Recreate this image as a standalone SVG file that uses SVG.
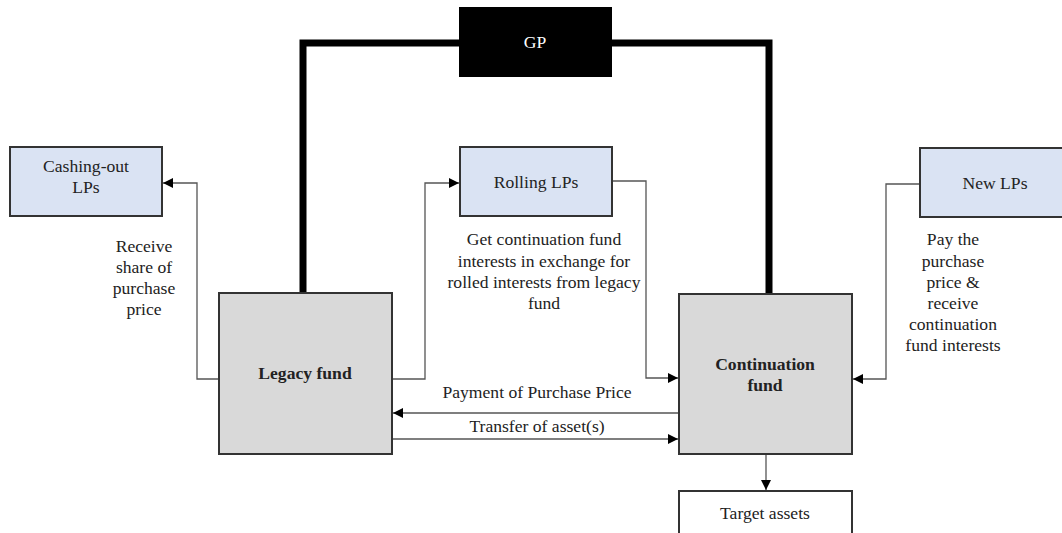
<svg xmlns="http://www.w3.org/2000/svg" width="1062" height="533" viewBox="0 0 1062 533">
<style>
text{font-family:"Liberation Serif","Times New Roman",serif;font-size:17.6px;fill:#222;text-anchor:middle}
.b{font-weight:bold}
.w{fill:#fff}
.lp{fill:#dae3f3;stroke:#333;stroke-width:2}
.fund{fill:#d9d9d9;stroke:#333;stroke-width:2}
.tgt{fill:#fff;stroke:#333;stroke-width:2}
.c{fill:none;stroke:#555;stroke-width:1.3}
.gp{fill:none;stroke:#000;stroke-width:7}
</style>
<defs>
<marker id="ah" viewBox="0 0 10 10" refX="10" refY="5" markerWidth="10" markerHeight="10" markerUnits="userSpaceOnUse" orient="auto">
<path d="M0,0 L10,5 L0,10 Z" fill="#000"/>
</marker>
</defs>
<rect width="1062" height="533" fill="#fff"/>
<g id="connectors">
<path class="gp" d="M303,294 V43 H460"/>
<path class="gp" d="M611,43 H769 V294"/>
<path class="c" d="M219,379 H197 V183 H163" marker-end="url(#ah)"/>
<path class="c" d="M392,379 H425 V183 H459" marker-end="url(#ah)"/>
<path class="c" d="M612,181 H646 V378 H678" marker-end="url(#ah)"/>
<path class="c" d="M920,184 H886 V379 H853" marker-end="url(#ah)"/>
<path class="c" d="M679,413 H393" marker-end="url(#ah)"/>
<path class="c" d="M392,439 H678" marker-end="url(#ah)"/>
<path class="c" d="M766,454 V490" marker-end="url(#ah)"/>
<text x="144" y="252">Receive</text>
<text x="144" y="273">share of</text>
<text x="144" y="294">purchase</text>
<text x="144" y="315">price</text>
<text x="544" y="245">Get continuation fund</text>
<text x="544" y="267">interests in exchange for</text>
<text x="544" y="288">rolled interests from legacy</text>
<text x="544" y="309">fund</text>
<text x="953" y="245">Pay the</text>
<text x="953" y="267">purchase</text>
<text x="953" y="288">price &amp;</text>
<text x="953" y="309">receive</text>
<text x="953" y="330">continuation</text>
<text x="953" y="351">fund interests</text>
<text x="537" y="398">Payment of Purchase Price</text>
<text x="537" y="432">Transfer of asset(s)</text>
</g>
<g id="gp">
<rect x="459" y="7" width="153" height="70" fill="#000"/>
<text class="w" x="535" y="48">GP</text>
</g>
<g id="cashing-out">
<rect class="lp" x="10" y="147" width="152" height="69"/>
<text x="86" y="172">Cashing-out</text>
<text x="86" y="193">LPs</text>
</g>
<g id="rolling">
<rect class="lp" x="460" y="147" width="152" height="69"/>
<text x="536" y="188">Rolling LPs</text>
</g>
<g id="new-lps">
<rect class="lp" x="920" y="148" width="152" height="69"/>
<text x="995" y="189">New LPs</text>
</g>
<g id="legacy">
<rect class="fund" x="219" y="293" width="173" height="161"/>
<text class="b" x="305" y="379">Legacy fund</text>
</g>
<g id="continuation">
<rect class="fund" x="679" y="294" width="173" height="160"/>
<text class="b" x="765" y="370">Continuation</text>
<text class="b" x="765" y="391">fund</text>
</g>
<g id="target">
<rect class="tgt" x="679" y="491" width="173" height="60"/>
<text x="765" y="519">Target assets</text>
</g>
</svg>
